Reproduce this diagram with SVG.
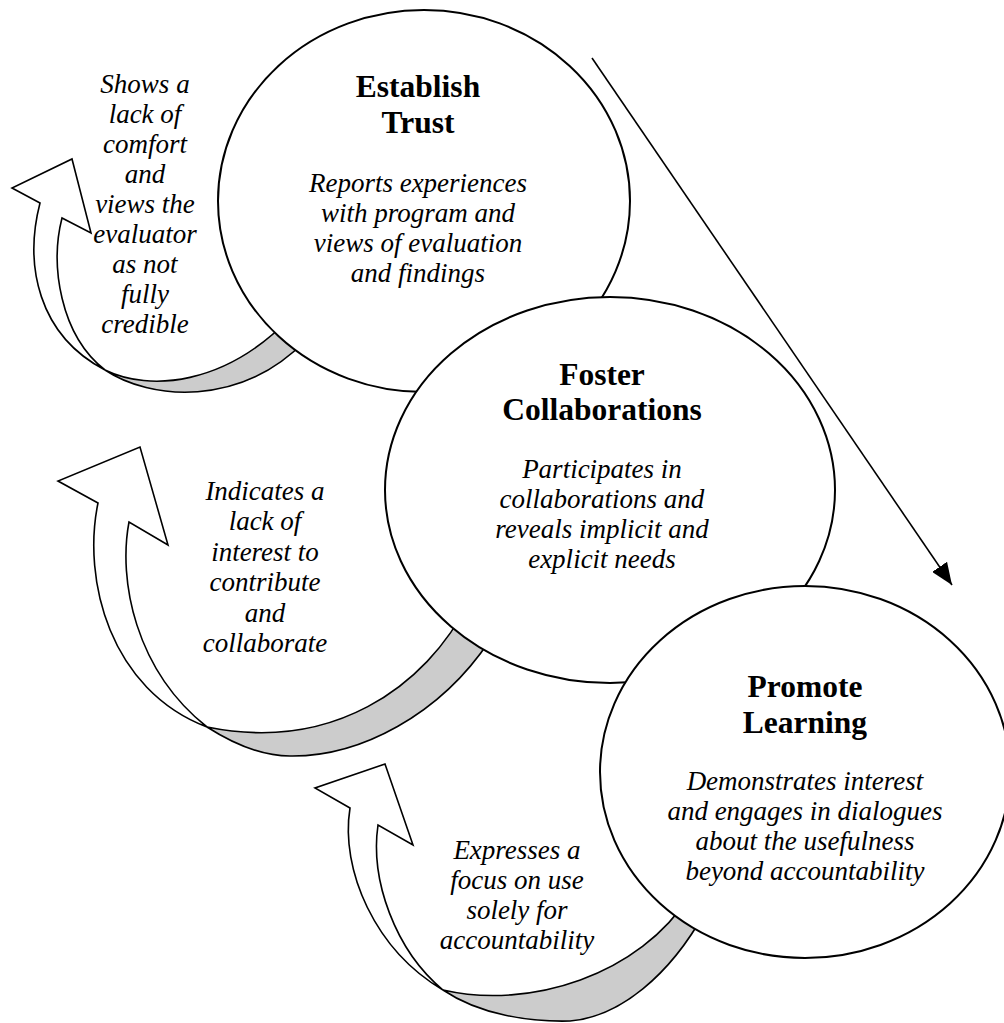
<svg xmlns="http://www.w3.org/2000/svg" width="1004" height="1023" viewBox="0 0 1004 1023">
<defs>
<style>
.node{fill:#fff;stroke:#000;stroke-width:2}
.band{fill:#fff;stroke:#000;stroke-width:1.6;stroke-linejoin:miter}
.shade{fill:#cccccc;stroke:#000;stroke-width:1.6}
.conn{stroke:#000;stroke-width:1.6;fill:none}
.t{font-family:"Liberation Serif","Times New Roman",serif;font-size:31.5px;font-weight:bold;text-anchor:middle;fill:#000}
.b{font-family:"Liberation Serif","Times New Roman",serif;font-size:27px;font-style:italic;text-anchor:middle;fill:#000}
</style>
<marker id="ah" viewBox="0 0 22 18" refX="22" refY="9" markerWidth="22" markerHeight="18" markerUnits="userSpaceOnUse" orient="auto">
<path d="M0,0 L22,9 L0,18 Z" fill="#000"/>
</marker>
</defs>
<rect width="1004" height="1023" fill="#fff"/>

<g id="connectors">
  <line class="conn" x1="592" y1="58" x2="952" y2="585" marker-end="url(#ah)"/>
  <g id="loop-trust">
    <path class="shade" d="M105,370 C150,400 240,408 306,340 L290,318 C225,385 150,392 105,370 Z"/>
    <path class="band" d="M40,203 L12,188 L72,159 L91,233 L62,218 C50,265 60,335 105,370 C38,335 24,265 40,203 Z"/>
  </g>
  <g id="loop-collab">
    <path class="shade" d="M207,727 C232,743 260,756 290,756 C360,757 440,715 490,640 L470,600 C425,690 330,752 207,727 Z"/>
    <path class="band" d="M98,503 L58,481 L140,447 L168,545 L129,522 C118,580 135,670 207,727 C110,690 82,580 98,503 Z"/>
  </g>
  <g id="loop-learning">
    <path class="shade" d="M443,990 C480,1015 530,1022 570,1021 C620,1017 670,975 705,912 L690,895 C640,975 530,1010 443,990 Z"/>
    <path class="band" d="M350,808 L315,788 L385,764 L413,845 L378,825 C370,880 395,950 443,990 C375,950 340,870 350,808 Z"/>
  </g>
</g>

<g id="label-trust-loop">
  <text class="b" x="145" y="93">Shows a</text>
  <text class="b" x="145" y="123">lack of</text>
  <text class="b" x="145" y="153">comfort</text>
  <text class="b" x="145" y="183">and</text>
  <text class="b" x="145" y="213">views the</text>
  <text class="b" x="145" y="243">evaluator</text>
  <text class="b" x="145" y="273">as not</text>
  <text class="b" x="145" y="303">fully</text>
  <text class="b" x="145" y="333">credible</text>
</g>

<g id="label-collab-loop">
  <text class="b" x="265" y="500">Indicates a</text>
  <text class="b" x="265" y="530">lack of</text>
  <text class="b" x="265" y="561">interest to</text>
  <text class="b" x="265" y="591">contribute</text>
  <text class="b" x="265" y="622">and</text>
  <text class="b" x="265" y="652">collaborate</text>
</g>

<g id="label-learning-loop">
  <text class="b" x="517" y="859">Expresses a</text>
  <text class="b" x="517" y="889">focus on use</text>
  <text class="b" x="517" y="919">solely for</text>
  <text class="b" x="517" y="949">accountability</text>
</g>

<g id="node-establish-trust">
  <ellipse class="node" cx="424" cy="201" rx="206" ry="191"/>
  <text class="t" x="418" y="97">Establish</text>
  <text class="t" x="418" y="133">Trust</text>
  <text class="b" x="418" y="192">Reports experiences</text>
  <text class="b" x="418" y="222">with program and</text>
  <text class="b" x="418" y="252">views of evaluation</text>
  <text class="b" x="418" y="282">and findings</text>
</g>

<g id="node-foster-collaborations">
  <ellipse class="node" cx="610" cy="490" rx="225" ry="193"/>
  <text class="t" x="602" y="385">Foster</text>
  <text class="t" x="602" y="420">Collaborations</text>
  <text class="b" x="602" y="478">Participates in</text>
  <text class="b" x="602" y="508">collaborations and</text>
  <text class="b" x="602" y="538">reveals implicit and</text>
  <text class="b" x="602" y="568">explicit needs</text>
</g>

<g id="node-promote-learning">
  <ellipse class="node" cx="805" cy="772" rx="205" ry="186"/>
  <text class="t" x="805" y="697">Promote</text>
  <text class="t" x="805" y="733">Learning</text>
  <text class="b" x="805" y="790">Demonstrates interest</text>
  <text class="b" x="805" y="820">and engages in dialogues</text>
  <text class="b" x="805" y="850">about the usefulness</text>
  <text class="b" x="805" y="880">beyond accountability</text>
</g>
</svg>
